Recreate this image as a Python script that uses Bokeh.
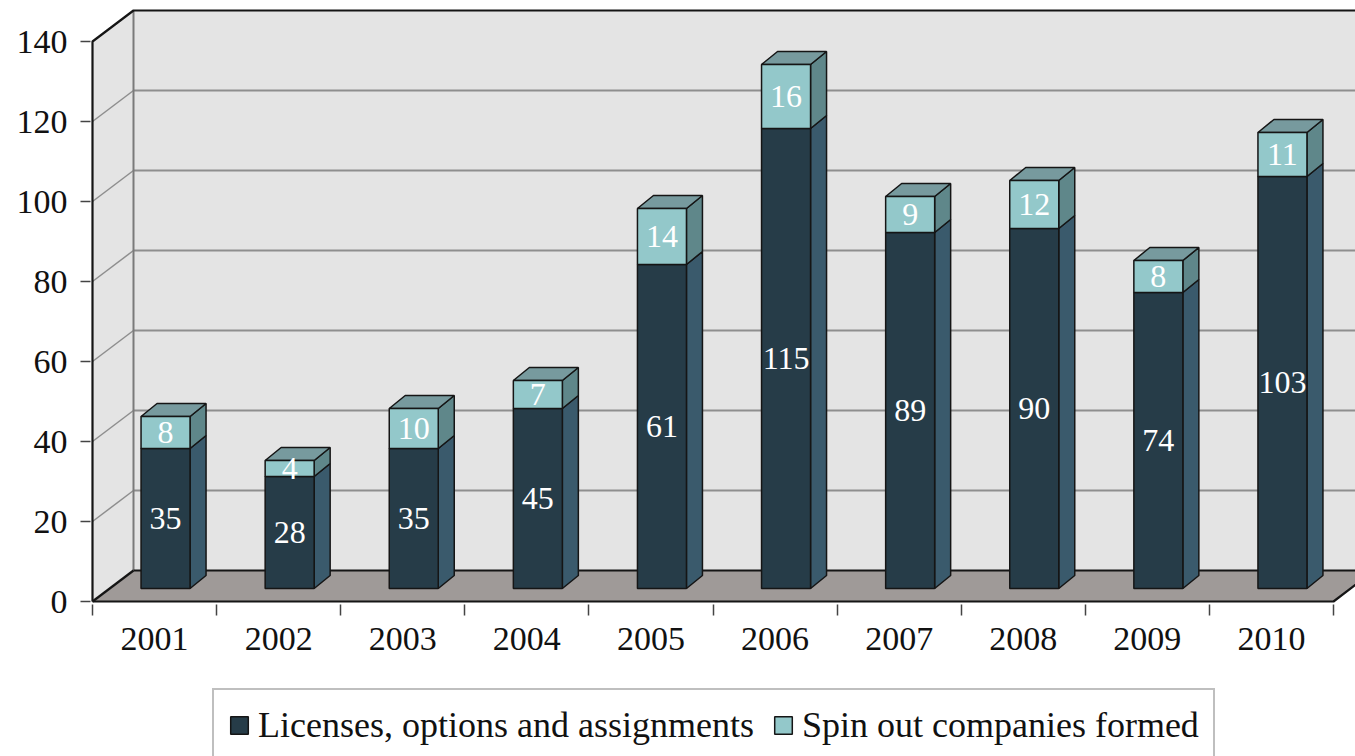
from bokeh.plotting import figure
from bokeh.models import Range1d, FixedTicker, Legend, LegendItem, ColumnDataSource
from bokeh.layouts import column
from bokeh.embed import file_html
from bokeh.resources import INLINE
from bokeh.core.properties import value

# ---------------- data ----------------
years = ["2001", "2002", "2003", "2004", "2005", "2006", "2007", "2008", "2009", "2010"]
# heights of the dark segments as drawn (the 2005 bar is drawn to ~81 though it is labelled 61)
licenses = [35, 28, 35, 45, 81, 115, 89, 90, 74, 103]
spinouts = [8, 4, 10, 7, 14, 16, 9, 12, 8, 11]
# texts printed on the bars
license_labels = ["35", "28", "35", "45", "61", "115", "89", "90", "74", "103"]
spinout_labels = ["8", "4", "10", "7", "14", "16", "9", "12", "8", "11"]
y_ticks = [0, 20, 40, 60, 80, 100, 120, 140]
series_names = ["Licenses, options and assignments", "Spin out companies formed"]

# ---------------- styling / projection ----------------
FONT = "Liberation Serif"
DARK, DARK_SIDE = "#263c48", "#3a5a6c"
LIGHT, LIGHT_SIDE, LIGHT_TOP = "#93c8ca", "#5f878a", "#779a9e"
EDGE = "#151515"
WALL, FLOOR, GRID = "#e4e4e4", "#9f9a98", "#8e8e8e"

XU = 124.1          # px per category
YU = 4.0            # px per value unit
DX, DY = 41 / XU, 31 / YU        # depth of the chart box
FX, FY = 11 / XU, 13 / YU        # shift of bar front faces
BW = 49 / XU                     # bar width
BDX, BDY = 16 / XU, 13 / YU      # bar depth
N = len(years)
YMAX = y_ticks[-1]

W = 1355
FL = 90             # frame left (figure px)
FH = 604            # frame height
BB = 62             # bottom border (x axis)
H1 = FH + BB

x0 = -2 / XU
x1 = x0 + (W - FL) / XU
y0 = -3 / YU
y1 = y0 + FH / YU

p = figure(width=W, height=H1, x_range=Range1d(x0, x1), y_range=Range1d(y0, y1),
           output_backend="svg", toolbar_location=None,
           min_border_left=FL, min_border_right=0, min_border_top=0, min_border_bottom=BB)
p.outline_line_color = None
p.background_fill_color = "white"
p.border_fill_color = "white"
p.xgrid.visible = False
p.ygrid.visible = False

# walls and floor
walls = ColumnDataSource(dict(
    xs=[[0, 0, DX, DX], [DX, N + DX, N + DX, DX], [0, DX, N + DX, N]],
    ys=[[0, YMAX, YMAX + DY, DY], [DY, DY, YMAX + DY, YMAX + DY], [0, DY, DY, 0]],
    c=[WALL, WALL, FLOOR],
))
p.patches("xs", "ys", source=walls, fill_color="c", line_color=None)

# gridlines on back wall and side wall
gt = y_ticks[1:-1]
p.segment(x0=[DX] * len(gt), y0=[t + DY for t in gt], x1=[N + DX] * len(gt), y1=[t + DY for t in gt],
          line_color=GRID, line_width=2)
p.segment(x0=[0] * len(gt), y0=gt, x1=[DX] * len(gt), y1=[t + DY for t in gt],
          line_color=GRID, line_width=1.5)
# back-left corner
p.line([DX, DX], [DY, YMAX + DY], line_color="#7a7a7a", line_width=2)

# box edges
p.multi_line(
    xs=[[0, 0, DX, N + DX], [DX, N + DX], [0, N, N + DX], [0, DX]],
    ys=[[0, YMAX, YMAX + DY, YMAX + DY], [DY, DY], [0, 0, DY], [0, DY]],
    line_color=EDGE, line_width=2.2)

# bars
xl = [i + 0.5 + FX - BW / 2 for i in range(N)]
xr = [x + BW for x in xl]
d_bot = [FY] * N
d_top = [FY + v for v in licenses]
l_bot = d_top
l_top = [b + v for b, v in zip(l_bot, spinouts)]


def side(xr_, b, t):
    return [xr_, xr_ + BDX, xr_ + BDX, xr_], [b, b + BDY, t + BDY, t]


sx, sy = [], []
for i in range(N):
    a, b = side(xr[i], d_bot[i], d_top[i])
    sx.append(a); sy.append(b)
p.patches(sx, sy, fill_color=DARK_SIDE, line_color=EDGE, line_width=1.5)
sx, sy = [], []
for i in range(N):
    a, b = side(xr[i], l_bot[i], l_top[i])
    sx.append(a); sy.append(b)
p.patches(sx, sy, fill_color=LIGHT_SIDE, line_color=EDGE, line_width=1.5)
tx = [[xl[i], xl[i] + BDX, xr[i] + BDX, xr[i]] for i in range(N)]
ty = [[l_top[i], l_top[i] + BDY, l_top[i] + BDY, l_top[i]] for i in range(N)]
p.patches(tx, ty, fill_color=LIGHT_TOP, line_color=EDGE, line_width=1.5)

p.quad(left=xl, right=xr, bottom=d_bot, top=d_top, fill_color=DARK, line_color=EDGE, line_width=1.5)
p.quad(left=xl, right=xr, bottom=l_bot, top=l_top, fill_color=LIGHT, line_color=EDGE, line_width=1.5)

cx = [(a + b) / 2 for a, b in zip(xl, xr)]
p.text(x=cx, y=[(a + b) / 2 for a, b in zip(d_bot, d_top)], text=license_labels,
       text_align="center", text_baseline="middle", text_color="white",
       text_font=value(FONT), text_font_size="32px")
p.text(x=cx, y=[(a + b) / 2 for a, b in zip(l_bot, l_top)], text=spinout_labels,
       text_align="center", text_baseline="middle", text_color="white",
       text_font=value(FONT), text_font_size="32px")

# axes
ya = p.yaxis[0]
ya.ticker = FixedTicker(ticks=y_ticks)
ya.axis_line_color = None
ya.major_tick_out = 10
ya.major_tick_in = 0
ya.minor_tick_out = 0
ya.major_tick_line_color = "#444444"
ya.major_tick_line_width = 1.5
ya.major_label_standoff = 13
ya.major_label_text_font = FONT
ya.major_label_text_font_size = "34px"
ya.major_label_text_color = "#111111"

xa = p.xaxis[0]
centers = [i + 0.5 for i in range(N)]
xa.ticker = FixedTicker(ticks=centers, minor_ticks=list(range(N + 1)))
xa.major_label_overrides = {c: y for c, y in zip(centers, years)}
xa.axis_line_color = None
xa.major_tick_out = 0
xa.major_tick_in = 0
xa.minor_tick_out = 11
xa.minor_tick_in = 0
xa.minor_tick_line_color = "#444444"
xa.minor_tick_line_width = 1.5
xa.major_label_standoff = 12
xa.major_label_text_font = FONT
xa.major_label_text_font_size = "34px"
xa.major_label_text_color = "#111111"

# legend figure (its frame is aligned with the main frame by the column layout)
H2 = 756 - H1
lf = figure(width=W, height=H2, x_range=Range1d(0, 1), y_range=Range1d(0, 1),
            output_backend="svg", toolbar_location=None, min_border=0,
            x_axis_location=None, y_axis_location=None)
lf.outline_line_color = None
lf.grid.visible = False
# one off-screen item each, only so that the legend can draw its swatches
rd = lf.quad(left=[5], right=[6], top=[6], bottom=[5], fill_color=DARK, line_color=EDGE, line_width=1.5)
rl = lf.quad(left=[5], right=[6], top=[6], bottom=[5], fill_color=LIGHT, line_color=EDGE, line_width=1.5)
legend = Legend(items=[LegendItem(label=series_names[0], renderers=[rd]),
                       LegendItem(label=series_names[1], renderers=[rl])],
                orientation="horizontal", location=(122, -6), margin=0,
                padding=14, spacing=18, label_standoff=8,
                glyph_width=22, glyph_height=22,
                label_text_font=FONT, label_text_font_size="36px", label_text_color="#111111",
                border_line_color="#7f7f7f", border_line_width=2,
                background_fill_color="white", background_fill_alpha=1)
lf.add_layout(legend)

layout = column(p, lf)
open("out.html", "w").write(file_html(layout, INLINE))
